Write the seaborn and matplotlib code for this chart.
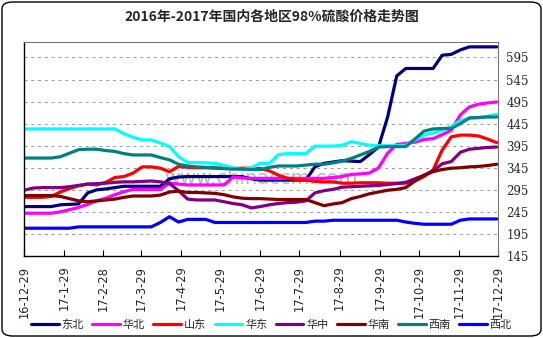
import numpy as np
import pandas as pd
import matplotlib
matplotlib.use("Agg")
import matplotlib.pyplot as plt
from matplotlib.patches import FancyBboxPatch
import seaborn as sns

# Weekly sulfuric acid (98%) prices, yuan/ton
dates = pd.date_range("2016-12-29", periods=53, freq="7D")

dongbei = [257, 257, 257, 257, 261, 262, 263, 288, 295, 297,
           300, 303, 303, 303, 303, 303, 320, 324, 325, 325,
           325, 325, 325, 325, 325, 320, 317, 317, 317, 317,
           317, 317, 347, 355, 358, 361, 360, 359, 375, 392,
           460, 553, 570, 570, 570, 570, 600, 602, 612, 619,
           619, 619, 619]
huabei = [242, 242, 242, 242, 245, 250, 255, 262, 270, 276,
          284, 291, 296, 296, 296, 296, 310, 308, 306, 306,
          306, 306, 306, 324, 322, 321, 321, 321, 321, 321,
          321, 321, 321, 321, 323, 325, 330, 331, 333, 345,
          378, 398, 400, 403, 409, 411, 420, 430, 465, 483,
          489, 492, 494]
shandong = [278, 278, 278, 280, 290, 298, 304, 308, 306, 312,
            323, 325, 333, 347, 347, 344, 336, 348, 346, 345,
            345, 344, 344, 343, 344, 344, 343, 338, 328, 321,
            318, 317, 314, 313, 313, 310, 310, 311, 311, 311,
            310, 310, 310, 315, 325, 340, 385, 415, 419, 419,
            417, 410, 402]
huadong = [433, 433, 433, 433, 433, 433, 433, 433, 433, 433,
           433, 422, 414, 408, 408, 401, 393, 370, 357, 357,
           356, 355, 350, 345, 341, 345, 355, 355, 375, 377,
           377, 377, 394, 394, 394, 396, 404, 400, 396, 395,
           395, 395, 396, 408, 419, 424, 430, 438, 452, 457,
           458, 462, 466]
huazhong = [294, 299, 300, 300, 300, 302, 305, 308, 309, 310,
            312, 313, 313, 314, 315, 313, 309, 293, 274, 272,
            272, 272, 268, 264, 261, 254, 257, 261, 264, 266,
            267, 270, 288, 293, 296, 301, 302, 303, 304, 305,
            307, 309, 312, 320, 328, 338, 354, 359, 380, 387,
            389, 391, 392]
huanan = [282, 282, 282, 282, 280, 275, 270, 268, 270, 272,
          274, 278, 281, 281, 281, 283, 290, 292, 289, 289,
          288, 287, 284, 279, 276, 275, 275, 274, 273, 273,
          273, 273, 266, 259, 263, 266, 275, 280, 286, 290,
          294, 296, 300, 315, 328, 336, 341, 344, 345, 347,
          348, 350, 353]
xinan = [367, 367, 367, 367, 370, 378, 386, 387, 387, 384,
         382, 377, 374, 374, 374, 368, 363, 353, 349, 347,
         346, 345, 343, 342, 342, 341, 341, 346, 349, 349,
         349, 351, 353, 353, 356, 360, 366, 374, 382, 392,
         393, 393, 393, 410, 428, 433, 434, 434, 445, 458,
         459, 460, 460]
xibei = [208, 208, 208, 208, 208, 208, 211, 211, 211, 211,
         211, 211, 211, 211, 211, 221, 234, 222, 228, 228,
         228, 221, 221, 221, 221, 221, 221, 221, 221, 221,
         221, 221, 224, 224, 226, 226, 226, 226, 226, 226,
         226, 226, 222, 219, 217, 217, 217, 217, 226, 229,
         229, 229, 229]

regions = ["东北", "华北", "山东", "华东", "华中", "华南", "西南", "西北"]
series = [dongbei, huabei, shandong, huadong, huazhong, huanan, xinan, xibei]
colors = ["#000080", "#FF00FF", "#FF0000", "#00FFFF",
          "#800080", "#800000", "#008080", "#0000FF"]

tick_dates = pd.to_datetime(["2016-12-29", "2017-01-29", "2017-02-28", "2017-03-29",
                             "2017-04-29", "2017-05-29", "2017-06-29", "2017-07-29",
                             "2017-08-29", "2017-09-29", "2017-10-29", "2017-11-29",
                             "2017-12-29"])
tick_labels = ["16-12-29", "17-1-29", "17-2-28", "17-3-29", "17-4-29", "17-5-29",
               "17-6-29", "17-7-29", "17-8-29", "17-9-29", "17-10-29", "17-11-29",
               "17-12-29"]
y_ticks = [145, 195, 245, 295, 345, 395, 445, 495, 545, 595]

df = pd.DataFrame({"date": np.tile(dates, len(regions)),
                   "price": np.concatenate(series),
                   "region": np.repeat(regions, len(dates))})

sns.set_theme(style="white")
plt.rcParams["font.family"] = ["Noto Sans CJK SC", "DejaVu Sans"]

fig = plt.figure(figsize=(5.43, 3.38), dpi=100)
ax = fig.add_axes([24 / 543, 1 - 256 / 338, 474 / 543, 214 / 338])

# faint site watermark behind the lines
ax.text(0.5, 0.36, "www.chinaccm.com", transform=ax.transAxes, ha="center",
        va="center", fontsize=14, color="#b8b8b8", family="DejaVu Sans", zorder=0)

sns.lineplot(data=df, x="date", y="price", hue="region", hue_order=regions,
             palette=colors, linewidth=2.3, ax=ax, legend=False, zorder=2)

ax.set_xlim(pd.Timestamp("2016-12-29"), pd.Timestamp("2017-12-29"))
ax.set_ylim(145, 630)
ax.set_xlabel("")
ax.set_ylabel("")

ax.yaxis.tick_right()
ax.set_yticks(y_ticks)
ax.set_yticklabels([str(v) for v in y_ticks], fontsize=8.5, family="DejaVu Serif")
ax.tick_params(axis="y", length=0, pad=6)
ax.grid(axis="y", color="#999999", linestyle=(0, (3, 4)), linewidth=0.7)

ax.set_xticks(tick_dates)
ax.set_xticklabels(tick_labels, rotation=90, fontsize=8.3, family="DejaVu Sans")
ax.tick_params(axis="x", direction="in", length=4, width=0.8, color="black",
               pad=7, bottom=True)

for side in ["left", "bottom"]:
    ax.spines[side].set_color("black")
    ax.spines[side].set_linewidth(1.0)
for side in ["top", "right"]:
    ax.spines[side].set_color("#777777")
    ax.spines[side].set_linestyle((0, (1, 1)))
    ax.spines[side].set_linewidth(0.8)

fig.text(0.5, 1 - 17 / 338, "2016年-2017年国内各地区98%硫酸价格走势图",
         ha="center", va="center", fontsize=10, fontweight="bold")

handles = [plt.Line2D([0], [0], color=c, lw=2.3) for c in colors]
fig.legend(handles, regions, loc="center", bbox_to_anchor=(0.5, 1 - 325 / 338),
           ncol=8, frameon=False, fontsize=8, handlelength=2.5, handletextpad=0.25,
           columnspacing=0.75, borderaxespad=0, borderpad=0)

border = FancyBboxPatch((2 / 543, 2 / 338), 539 / 543, 334 / 338,
                        boxstyle="round,pad=0,rounding_size=0.02",
                        transform=fig.transFigure, fill=False,
                        edgecolor="black", linewidth=1.0)
fig.patches.append(border)

fig.savefig("out.png", dpi=100)
